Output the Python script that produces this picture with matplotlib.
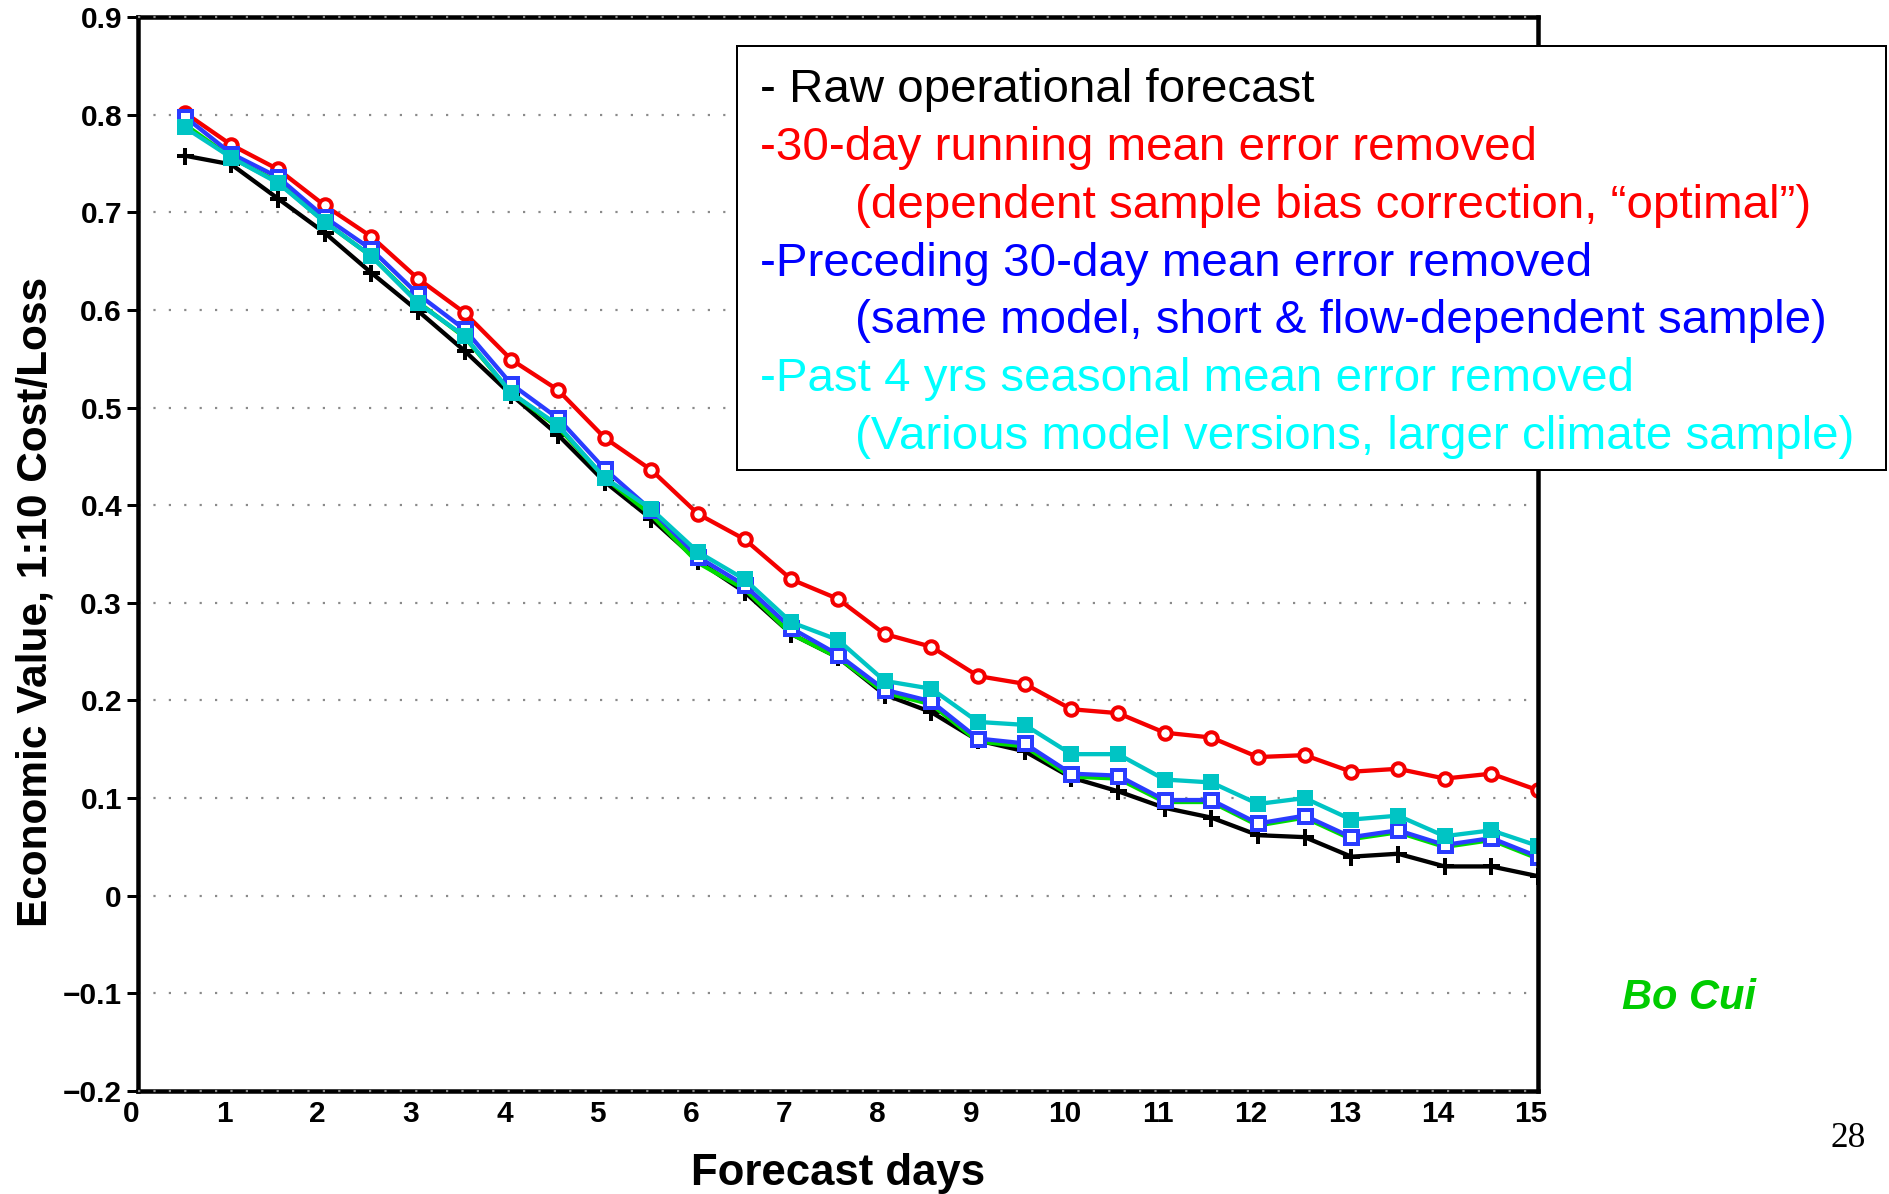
import matplotlib
matplotlib.use('Agg')
import matplotlib.pyplot as plt
from matplotlib.patches import Rectangle
from matplotlib.transforms import ScaledTranslation

# ---------------- data ----------------
lead_days = [0.5, 1.0, 1.5, 2.0, 2.5, 3.0, 3.5, 4.0, 4.5, 5.0,
             5.5, 6.0, 6.5, 7.0, 7.5, 8.0, 8.5, 9.0, 9.5, 10.0,
             10.5, 11.0, 11.5, 12.0, 12.5, 13.0, 13.5, 14.0, 14.5, 15.0]

raw_forecast = [0.758, 0.749, 0.714, 0.679, 0.638, 0.599, 0.558, 0.513, 0.472, 0.424,
                0.386, 0.343, 0.311, 0.268, 0.244, 0.206, 0.188, 0.159, 0.148, 0.121,
                0.107, 0.090, 0.080, 0.062, 0.060, 0.040, 0.043, 0.030, 0.030, 0.020]

running_30day = [0.802, 0.769, 0.744, 0.707, 0.675, 0.632, 0.597, 0.549, 0.518, 0.469,
                 0.436, 0.391, 0.365, 0.324, 0.304, 0.268, 0.255, 0.225, 0.217, 0.191,
                 0.187, 0.167, 0.162, 0.142, 0.144, 0.127, 0.130, 0.120, 0.125, 0.108]

preceding_30day = [0.798, 0.760, 0.736, 0.695, 0.662, 0.616, 0.580, 0.524, 0.489, 0.437,
                   0.395, 0.347, 0.318, 0.274, 0.247, 0.211, 0.199, 0.161, 0.156, 0.125,
                   0.123, 0.098, 0.098, 0.074, 0.082, 0.060, 0.067, 0.052, 0.059, 0.040]

past_4yrs = [0.787, 0.756, 0.730, 0.690, 0.655, 0.607, 0.573, 0.515, 0.482, 0.428,
             0.396, 0.352, 0.324, 0.280, 0.262, 0.220, 0.212, 0.178, 0.175, 0.145,
             0.145, 0.119, 0.116, 0.094, 0.100, 0.078, 0.082, 0.061, 0.067, 0.051]

green_series = [0.790, 0.756, 0.731, 0.690, 0.655, 0.608, 0.572, 0.515, 0.480, 0.428,
                0.390, 0.341, 0.314, 0.268, 0.244, 0.208, 0.196, 0.158, 0.153, 0.122,
                0.120, 0.096, 0.096, 0.072, 0.080, 0.058, 0.065, 0.050, 0.057, 0.038]

yticks = [-0.2, -0.1, 0.0, 0.1, 0.2, 0.3, 0.4, 0.5, 0.6, 0.7, 0.8, 0.9]
ytick_labels = ['\u22120.2', '\u22120.1', '0', '0.1', '0.2', '0.3', '0.4',
                '0.5', '0.6', '0.7', '0.8', '0.9']
xticks = [0, 1, 2, 3, 4, 5, 6, 7, 8, 9, 10, 11, 12, 13, 14, 15]
xtick_labels = ['0', '1', '2', '3', '4', '5', '6', '7', '8', '9',
                '10', '11', '12', '13', '14', '15']

legend_lines = [
    ('- Raw operational forecast', 'black', False),
    ('-30-day running mean error removed', '#ff0000', False),
    ('(dependent sample bias correction, \u201coptimal\u201d)', '#ff0000', True),
    ('-Preceding 30-day mean error removed', '#0000ff', False),
    ('(same model, short & flow-dependent sample)', '#0000ff', True),
    ('-Past 4 yrs seasonal mean error removed', '#00ffff', False),
    ('(Various model versions, larger climate sample)', '#00ffff', True),
]

# ---------------- figure ----------------
W, H = 1889, 1194
DPI = 100
P = 72.0 / DPI  # points per pixel

fig = plt.figure(figsize=(W / DPI, H / DPI), dpi=DPI)
ax = fig.add_axes([138 / W, 1 - 1091 / H, 1400 / W, 1074 / H])
ax.set_xlim(0, 15)
ax.set_ylim(-0.2, 0.9)

# gridlines (dotted)
for i, yv in enumerate(yticks):
    edge = (i == 0 or i == len(yticks) - 1)
    ax.axhline(yv, color='#8a8a8a', lw=2.2 * P, ls=(0, (1, 6.0)),
               zorder=3.5 if edge else 0.5, clip_on=not edge)

lw = 4.3 * P
ax.plot(lead_days, raw_forecast, color='black', lw=lw, marker='+',
        ms=17 * P, mew=4.0 * P, zorder=2)
ax.plot(lead_days, green_series, color='#00dc00', lw=lw, zorder=2.1)
ax.plot(lead_days, running_30day, color='#f40000', lw=lw, marker='o',
        ms=12.5 * P, mew=4.0 * P, mfc='white', mec='#f40000', zorder=2.2)
ax.plot(lead_days, preceding_30day, color='#2a3cff', lw=lw, marker='s',
        ms=13 * P, mew=4.0 * P, mfc='white', mec='#2a3cff', zorder=2.3)
ax.plot(lead_days, past_4yrs, color='#00c4c4', lw=lw, marker='s',
        ms=16 * P, mew=0, mfc='#00c4c4', zorder=2.4)

for s in ax.spines.values():
    s.set_linewidth(4.5 * P)
    s.set_color('black')
    s.set_zorder(3)

ax.set_yticks(yticks)
ax.set_yticklabels(ytick_labels)
ax.set_xticks(xticks)
ax.set_xticklabels(xtick_labels)
ax.tick_params(axis='y', direction='out', length=11 * P, width=3 * P,
               pad=5 * P, labelsize=21.5)
ax.tick_params(axis='x', length=0, pad=9 * P, labelsize=21.5)
for lab in ax.get_yticklabels() + ax.get_xticklabels():
    lab.set_fontfamily('Liberation Sans')
    lab.set_fontweight('bold')
for lab in ax.get_xticklabels():
    lab.set_transform(lab.get_transform() +
                      ScaledTranslation(-7 / DPI, 0, fig.dpi_scale_trans))

# axis titles
fig.text(36 / W, 1 - 602 / H, 'Economic Value, 1:10 Cost/Loss', rotation=90,
         ha='center', va='center', fontsize=30.5, fontweight='bold',
         family='Liberation Sans')
fig.text(838 / W, 1 - 1185 / H, 'Forecast days', ha='center', va='baseline',
         fontsize=31.5, fontweight='bold', family='Liberation Sans')

# legend box
box = Rectangle((737 / W, 1 - 470 / H), (1886 - 737) / W, (470 - 46) / H,
                transform=fig.transFigure, facecolor='white', edgecolor='black',
                lw=2 * P, zorder=5)
fig.add_artist(box)
baselines = [102, 160, 218, 276, 333, 391, 449]
for (txt, col, indent), b in zip(legend_lines, baselines):
    x = 855 if indent else 760
    fig.text(x / W, 1 - b / H, txt, color=col, ha='left', va='baseline',
             fontsize=34.2, family='Liberation Sans', zorder=6)

fig.text(1622 / W, 1 - 1009 / H, 'Bo Cui', ha='left', va='baseline',
         fontsize=30, fontweight='bold', fontstyle='italic', color='#00cc00',
         family='Liberation Sans')
fig.text(1830 / W, 1 - 1147 / H, '28', ha='left', va='baseline',
         fontsize=25.5, family='Liberation Serif')

fig.savefig('out.png', dpi=DPI)
